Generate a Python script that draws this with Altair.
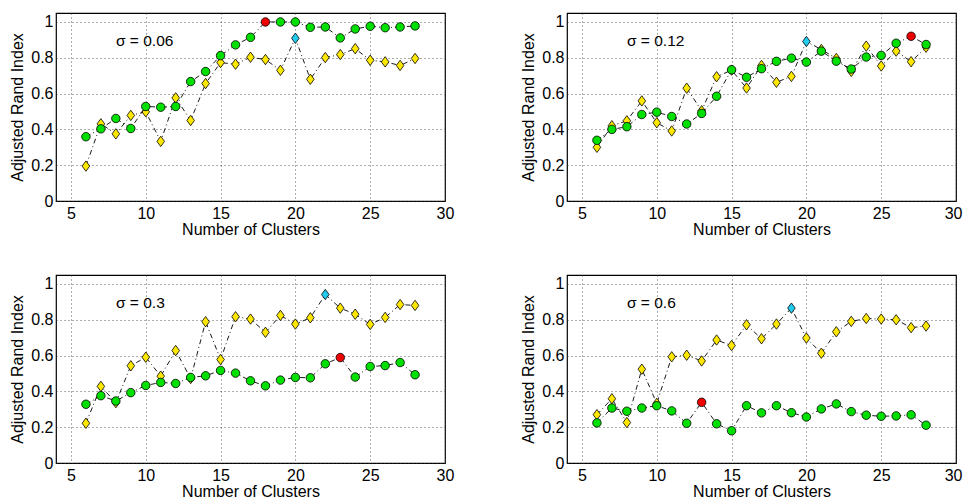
import altair as alt
import pandas as pd

# Number of clusters evaluated in every panel
clusters = list(range(6, 29))

# Noise levels, one per panel
sigmas = ["0.06", "0.12", "0.3", "0.6"]

# Adjusted Rand Index, circle series (green)
ari_circle_006 = [0.359, 0.403, 0.461, 0.405, 0.528, 0.524, 0.528, 0.667, 0.723, 0.812, 0.872, 0.914,
                  1.000, 1.000, 1.000, 0.970, 0.972, 0.911, 0.961, 0.976, 0.968, 0.972, 0.978]
ari_circle_012 = [0.339, 0.400, 0.415, 0.483, 0.496, 0.472, 0.430, 0.489, 0.585, 0.733, 0.691, 0.739,
                  0.780, 0.798, 0.776, 0.837, 0.781, 0.737, 0.804, 0.813, 0.881, 0.920, 0.874]
ari_circle_03 = [0.328, 0.376, 0.346, 0.393, 0.433, 0.450, 0.444, 0.478, 0.487, 0.517, 0.502, 0.459,
                 0.431, 0.463, 0.478, 0.476, 0.554, 0.589, 0.480, 0.539, 0.544, 0.561, 0.493]
ari_circle_06 = [0.224, 0.307, 0.289, 0.307, 0.320, 0.291, 0.222, 0.339, 0.219, 0.180, 0.320, 0.280,
                 0.320, 0.281, 0.257, 0.302, 0.330, 0.287, 0.267, 0.261, 0.263, 0.269, 0.211]

# Adjusted Rand Index, diamond series (yellow)
ari_diamond_006 = [0.195, 0.431, 0.375, 0.478, 0.498, 0.333, 0.576, 0.450, 0.656, 0.773, 0.764, 0.803,
                   0.790, 0.730, 0.909, 0.680, 0.801, 0.818, 0.851, 0.786, 0.777, 0.757, 0.796]
ari_diamond_012 = [0.300, 0.420, 0.448, 0.559, 0.437, 0.391, 0.630, 0.504, 0.694, 0.731, 0.631, 0.757,
                   0.663, 0.696, 0.891, 0.846, 0.796, 0.724, 0.865, 0.754, 0.837, 0.778, 0.859]
ari_diamond_03 = [0.222, 0.428, 0.337, 0.543, 0.591, 0.485, 0.628, 0.472, 0.789, 0.578, 0.817, 0.804,
                  0.730, 0.824, 0.776, 0.811, 0.941, 0.865, 0.831, 0.774, 0.813, 0.885, 0.880]
ari_diamond_06 = [0.270, 0.359, 0.226, 0.524, 0.333, 0.593, 0.602, 0.570, 0.687, 0.656, 0.772, 0.694,
                  0.776, 0.865, 0.698, 0.613, 0.733, 0.791, 0.807, 0.804, 0.800, 0.756, 0.765]

circle_series = [ari_circle_006, ari_circle_012, ari_circle_03, ari_circle_06]
diamond_series = [ari_diamond_006, ari_diamond_012, ari_diamond_03, ari_diamond_06]

GREEN = "#00e000"
RED = "#ee0000"
YELLOW = "#ffe800"
CYAN = "#22ccee"
FONT = "Liberation Sans"
DIAMOND = "M0,-1.3L0.95,0L0,1.3L-0.95,0Z"
DASHDOT = [5, 3, 1, 3]


def first_max_flag(values):
    s = pd.Series(values)
    flags = [False] * len(values)
    flags[int(s.idxmax())] = True
    return flags


def panel(sigma, circ, diam, right_column):
    df = pd.DataFrame({
        "k": clusters,
        "circ": circ,
        "diam": diam,
        "circ_best": first_max_flag(circ),
        "diam_best": first_max_flag(diam),
    })
    # the right-hand column's last tick label sits at the page edge
    x_axis = (alt.Axis(values=[5, 10, 15, 20, 25, 30], labelFlush=True, labelFlushOffset=6)
              if right_column else
              alt.Axis(values=[5, 10, 15, 20, 25, 30], labelFlush=False))
    x = alt.X("k:Q", title="Number of Clusters",
              scale=alt.Scale(domain=[4, 30], nice=False, zero=False), axis=x_axis)

    def y(field):
        return alt.Y(f"{field}:Q", title="Adjusted Rand Index",
                     scale=alt.Scale(domain=[0, 1.05], nice=False),
                     axis=alt.Axis(values=[0, 0.2, 0.4, 0.6, 0.8, 1], format="~g", labelFlush=False))

    base = alt.Chart(df).encode(x=x)
    diam_line = base.mark_line(color="black", strokeWidth=0.9, strokeDash=DASHDOT).encode(y=y("diam"))
    diam_pts = base.mark_point(shape=DIAMOND, filled=True, size=64, stroke="black",
                               strokeWidth=0.8, opacity=1).encode(
        y=y("diam"),
        fill=alt.condition("datum.diam_best", alt.value(CYAN), alt.value(YELLOW)))
    circ_line = base.mark_line(color="black", strokeWidth=0.9, strokeDash=DASHDOT).encode(y=y("circ"))
    circ_pts = base.mark_point(shape="circle", filled=True, size=72, stroke="black",
                               strokeWidth=0.8, opacity=1).encode(
        y=y("circ"),
        fill=alt.condition("datum.circ_best", alt.value(RED), alt.value(GREEN)))
    label = alt.Chart(pd.DataFrame({"t": [f"σ = {sigma}"]})).mark_text(
        align="left", baseline="middle", font=FONT, fontSize=15.5, color="black"
    ).encode(text="t:N", x=alt.value(60), y=alt.value(28))
    return alt.layer(diam_line, diam_pts, circ_line, circ_pts, label).properties(width=389, height=188)


panels = [panel(s, c, d, i % 2 == 1)
          for i, (s, c, d) in enumerate(zip(sigmas, circle_series, diamond_series))]

chart = alt.concat(
    *panels, columns=2, spacing=alt.RowColnumber(row=74, column=122), bounds="flush"
).properties(
    padding={"left": 9, "top": 12, "right": 0, "bottom": 0},
    background="white",
).configure_view(
    stroke="black", strokeWidth=1.2
).configure_axis(
    domain=False, ticks=False, grid=True,
    gridColor="#333", gridDash=[1, 3], gridWidth=0.8,
    labelFont=FONT, labelFontSize=16, labelColor="black",
    titleFont=FONT, titleFontSize=16, titleFontWeight="normal", titleColor="black",
).configure_axisX(
    labelPadding=4, titlePadding=0
).configure_axisY(
    labelPadding=3, titlePadding=5
)

chart.save("out.html", embed_options={"renderer": "svg", "actions": False})
